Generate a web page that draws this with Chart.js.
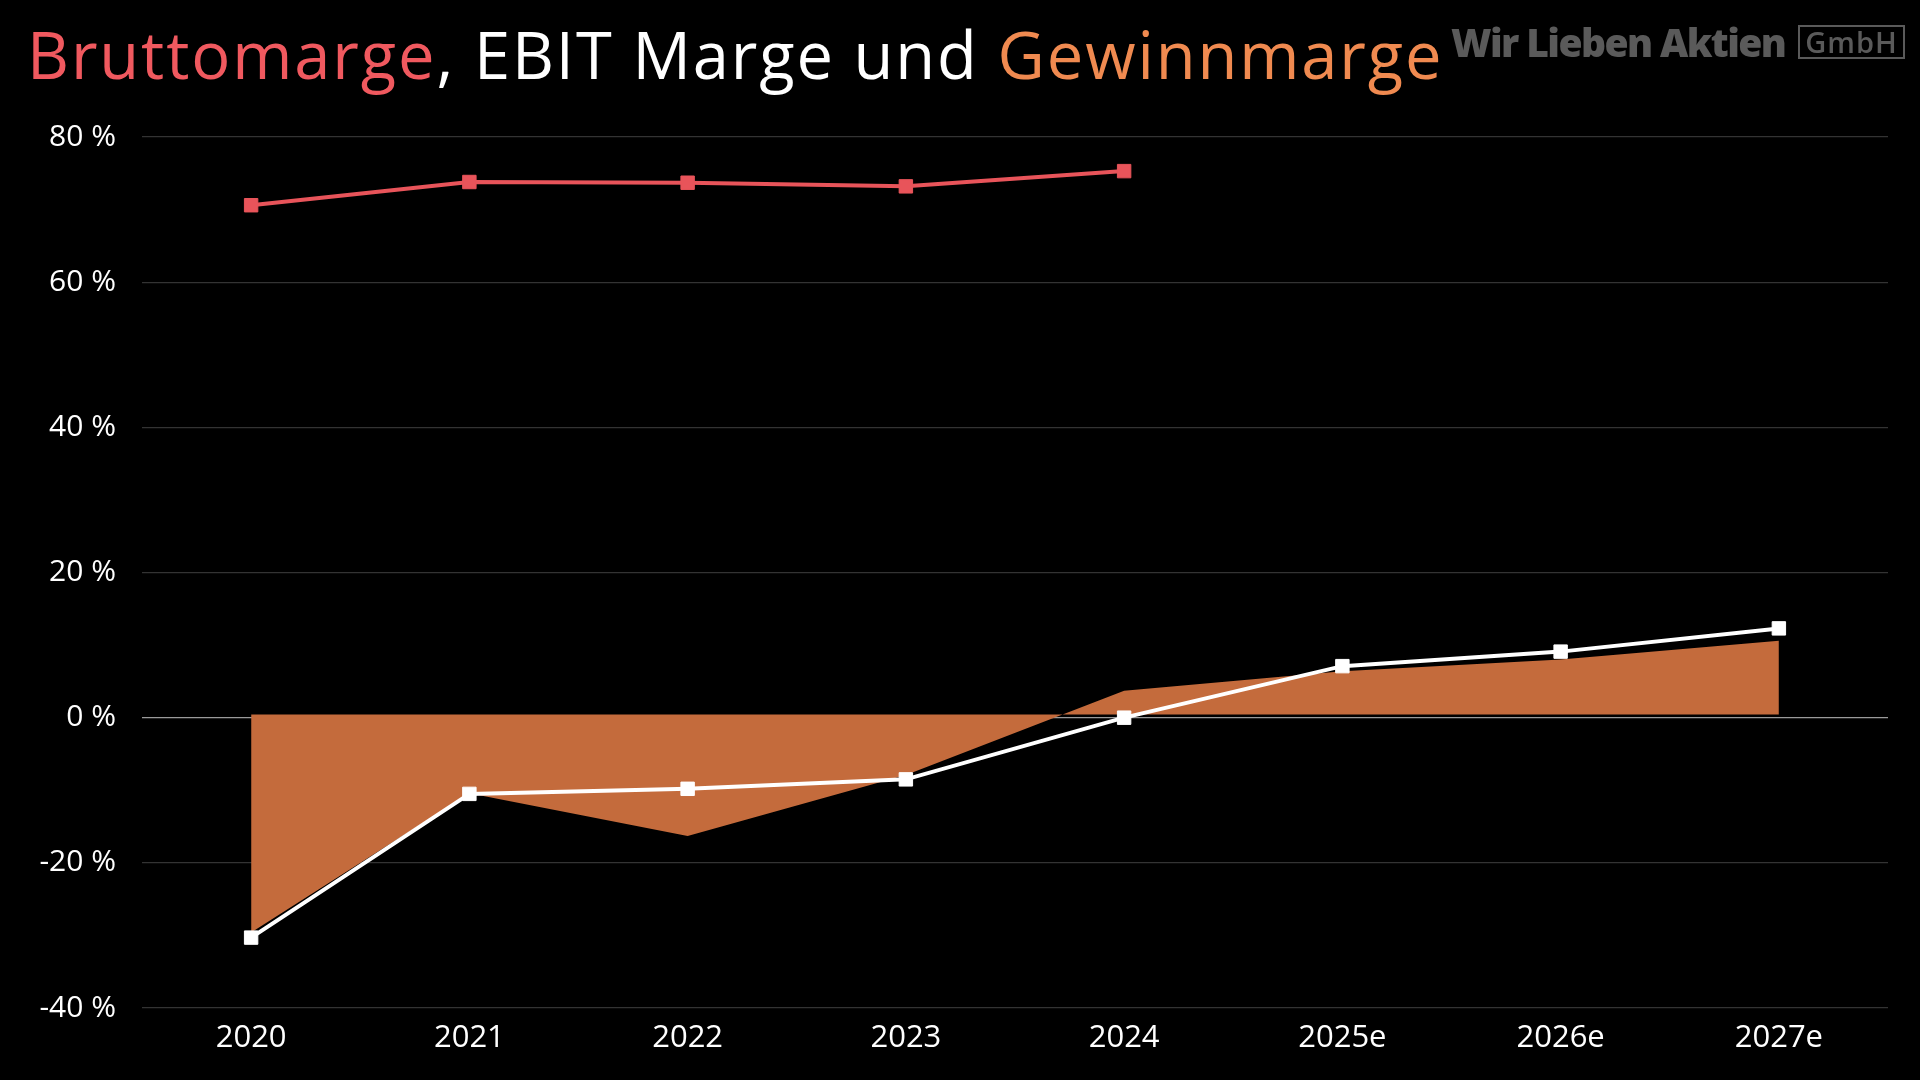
<!DOCTYPE html>
<html>
<head>
<meta charset="utf-8">
<script src="https://cdn.jsdelivr.net/npm/chart.js@4"></script>
<style>
  html, body { margin:0; padding:0; background:#000; width:1920px; height:1080px; overflow:hidden; }
  #wrap { position:absolute; left:0; top:0; width:1920px; height:1080px; }
  #title { position:absolute; left:27px; top:10px; font-family:"Open Sans", sans-serif; font-size:65px; font-weight:500; color:#fff; white-space:nowrap; letter-spacing:1.9px; }
  #title .r { color:#f0595f; }
  #title .o { color:#f08a50; }
  #wm { position:absolute; left:1451px; top:15px; font-family:"Open Sans", sans-serif; color:#5a5a5a; white-space:nowrap; }
  #wm .a { font-weight:800; font-size:39px; letter-spacing:-1.6px; vertical-align:middle; }
  #wm .b { display:inline-block; border:2px solid #5a5a5a; font-size:29px; font-weight:600; padding:0 5px; line-height:30px; margin-left:13px; vertical-align:middle; letter-spacing:1px; }
</style>
</head>
<body>
<div id="wrap">
  <canvas id="c" width="1920" height="1080"></canvas>
  <div id="title"><span class="r">Bruttomarge</span>, EBIT Marge und <span class="o">Gewinnmarge</span></div>
  <div id="wm"><span class="a">Wir Lieben Aktien</span><span class="b">GmbH</span></div>
</div>
<script>
const categories = ["2020", "2021", "2022", "2023", "2024", "2025e", "2026e", "2027e"];
const bruttomarge = [70.6, 73.8, 73.7, 73.2, 75.3, null, null, null];
const ebitMarge = [-30.3, -10.5, -9.8, -8.5, 0.0, 7.1, 9.1, 12.3];
const gewinnmarge = [-29.6, -10.4, -16.3, -7.9, 3.7, 6.4, 8.0, 10.6];
const yTicks = [-40, -20, 0, 20, 40, 60, 80];

const FONT = "'Open Sans', sans-serif";
new Chart(document.getElementById('c'), {
  type: 'line',
  data: {
    labels: categories,
    datasets: [
      {
        label: 'Bruttomarge', data: bruttomarge,
        borderColor: '#e8545a', backgroundColor: '#e8545a',
        borderWidth: 4, pointStyle: 'rect', pointRadius: 9.5, pointBorderWidth: 1,
        tension: 0, order: 1, spanGaps: false
      },
      {
        label: 'EBIT Marge', data: ebitMarge,
        borderColor: '#ffffff', backgroundColor: '#ffffff',
        borderWidth: 4, pointStyle: 'rect', pointRadius: 9.5, pointBorderWidth: 1,
        tension: 0, order: 2
      },
      {
        label: 'Gewinnmarge', data: gewinnmarge,
        borderColor: 'rgba(0,0,0,0)', backgroundColor: '#c46b3c',
        borderWidth: 0, pointRadius: 0, fill: { value: 0.45 },
        tension: 0, order: 3
      }
    ]
  },
  options: {
    responsive: false,
    animation: false,
    layout: { padding: { left: 0, right: 32, top: 137, bottom: 0 } },
    plugins: { legend: { display: false }, tooltip: { enabled: false } },
    scales: {
      x: {
        offset: true,
        grid: { display: false, drawTicks: false },
        border: { display: false },
        ticks: { color: '#ffffff', font: { family: FONT, size: 31 }, padding: 12 },
        afterFit: (s) => { s.height = 72; }
      },
      y: {
        min: -40, max: 80,
        afterBuildTicks: (s) => { s.ticks = yTicks.map(v => ({ value: v })); },
        grid: {
          drawTicks: false,
          color: (ctx) => ctx.tick && ctx.tick.value === 0 ? '#9a9a9a' : '#333333',
          lineWidth: 1.2
        },
        border: { display: false },
        ticks: { color: '#ffffff', font: { family: FONT, size: 30 }, padding: 26,
                 callback: (v) => v + ' %' },
        afterFit: (s) => { s.width = 142; }
      }
    }
  }
});
</script>
</body>
</html>
